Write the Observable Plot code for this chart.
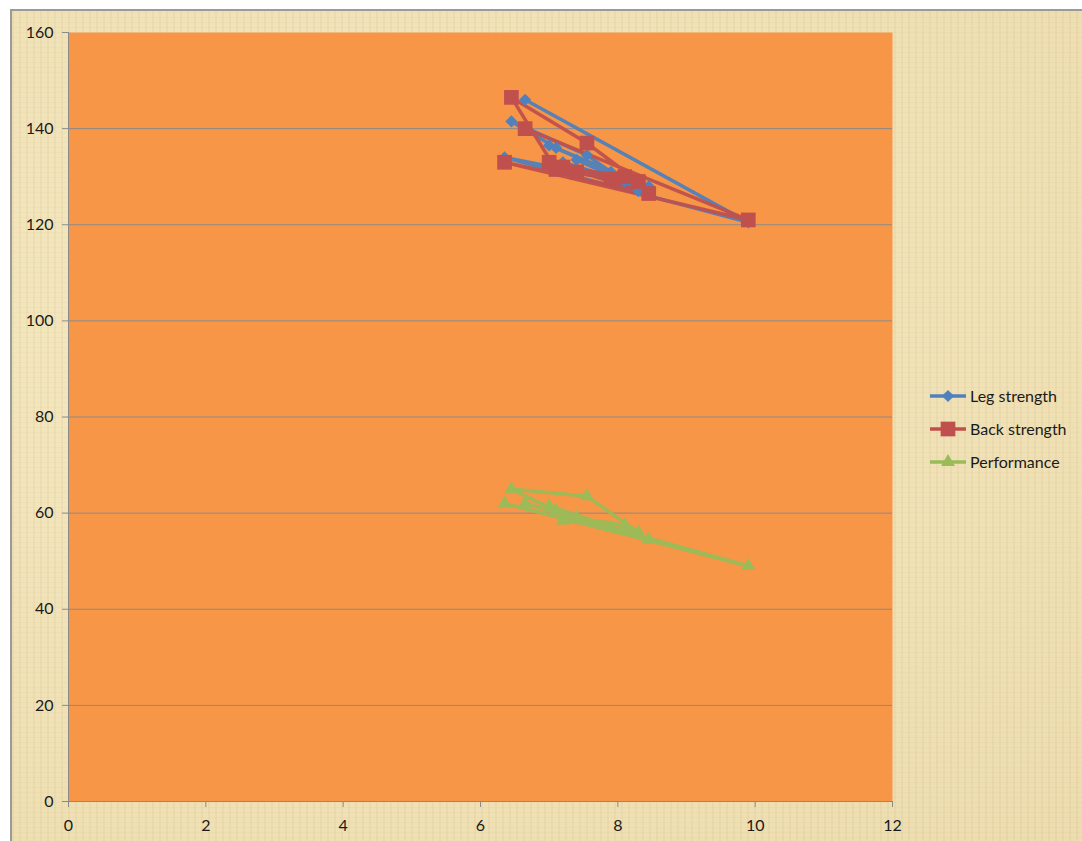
<!DOCTYPE html>
<html>
<head>
<meta charset="utf-8">
<script src="https://cdn.jsdelivr.net/npm/d3@7"></script>
<script src="https://cdn.jsdelivr.net/npm/@observablehq/plot@0.6"></script>
<style>
  html, body { margin: 0; padding: 0; background: #ffffff; }
  #chart {
    position: absolute; left: 10px; top: 9px; width: 1072px; height: 832px;
    border-left: 2px solid #9a9a9a; border-top: 2px solid #9a9a9a;
    background-color: #eedfb2;
    background-image:
      repeating-linear-gradient(90deg, rgba(190,160,100,0.10) 0px, rgba(190,160,100,0.10) 2px, rgba(255,255,255,0) 2px, rgba(255,255,255,0) 7px),
      repeating-linear-gradient(0deg, rgba(200,170,110,0.08) 0px, rgba(200,170,110,0.08) 1px, rgba(255,255,255,0) 1px, rgba(255,255,255,0) 5px),
      radial-gradient(ellipse at 30% 40%, rgba(250,240,205,0.6), rgba(230,210,160,0.2));
    font-family: Lato, "Open Sans", sans-serif;
  }
  #plot { position: absolute; left: 0; top: 0; }
  #plot svg text { font-size: 16px; fill: #1a1a1a; }
  #legend { position: absolute; left: 916px; top: 368px; font-size: 16px; color: #1a1a1a; }
  .item { display: flex; align-items: center; height: 33px; }
  .item svg { margin-right: 2px; }
</style>
</head>
<body>
<div id="chart">
  <div id="plot"></div>
  <div id="legend"></div>
</div>
<script>
// x values (shared) in data order
const xValues      = [6.65, 9.9, 6.35, 8.45, 7.0, 7.9, 7.1, 6.45, 7.55, 8.3, 7.2, 8.1, 7.4];
const legStrength  = [146, 120.5, 134, 128, 136.5, 131, 136, 141.5, 134.5, 127, 133, 129, 133.5];
const backStrength = [140, 121, 133, 126.5, 133, 129.5, 131.5, 146.5, 137, 129, 132, 130, 131];
const performance  = [62, 49, 62, 54.5, 61.5, 57, 60.5, 65, 63.5, 56, 58.5, 57.5, 59];
const seriesNames  = ["Leg strength", "Back strength", "Performance"];
const seriesColors = ["#4f81bd", "#c0504d", "#9bbb59"];
const seriesSymbols = ["diamond2", "square", "triangle"];
const seriesR = [5.5, 8.3, 5.2];
const xTicks = [0, 2, 4, 6, 8, 10, 12];
const yTicks = [0, 20, 40, 60, 80, 100, 120, 140, 160];

const seriesValues = [legStrength, backStrength, performance];
const rows = seriesNames.flatMap((name, s) =>
  xValues.map((x, i) => ({series: name, idx: i, x, y: seriesValues[s][i]})));

const font = "Lato, 'Open Sans', sans-serif";
const marks = [
  Plot.frame({fill: "#f79646", stroke: null}),
  Plot.gridY(yTicks.filter(d => d > 0 && d < 160), {stroke: "#8a8a8a", strokeOpacity: 1, strokeWidth: 1}),
  Plot.ruleX([0], {stroke: "#8a8a8a", strokeWidth: 1}),
  Plot.ruleY([0], {stroke: "#8a8a8a", strokeWidth: 1}),
  Plot.axisY(yTicks, {tickSize: 6, tickPadding: 9, stroke: "#8a8a8a", label: null}),
  Plot.axisX(xTicks, {tickSize: 6, tickPadding: 12, stroke: "#8a8a8a", label: null})
];
seriesNames.forEach((name, s) => {
  const data = rows.filter(d => d.series === name);
  marks.push(Plot.line(data, {x: "x", y: "y", stroke: seriesColors[s], strokeWidth: 3.5, strokeOpacity: 0.95}));
});
seriesNames.forEach((name, s) => {
  const data = rows.filter(d => d.series === name);
  marks.push(Plot.dot(data, {x: "x", y: "y", symbol: () => seriesSymbols[s], r: seriesR[s], fill: seriesColors[s], stroke: "none"}));
});

const chart = Plot.plot({
  width: 1072, height: 832,
  marginLeft: 56, marginRight: 192, marginTop: 21, marginBottom: 42,
  style: {background: "transparent", fontFamily: font, fontSize: "16px"},
  x: {domain: [0, 12]},
  y: {domain: [0, 160]},
  marks
});
document.getElementById("plot").appendChild(chart);

// legend
const legend = document.getElementById("legend");
seriesNames.forEach((name, s) => {
  const item = document.createElement("div");
  item.className = "item";
  const sym = d3.symbol().type(
    seriesSymbols[s] === "diamond2" ? d3.symbolDiamond2 :
    seriesSymbols[s] === "square" ? d3.symbolSquare : d3.symbolTriangle
  ).size(Math.PI * seriesR[s] * seriesR[s])();
  item.innerHTML = `<svg width="40" height="20"><line x1="2" y1="10" x2="38" y2="10" stroke="${seriesColors[s]}" stroke-width="3.5"/><path transform="translate(20,10)" d="${sym}" fill="${seriesColors[s]}"/></svg><span>${name}</span>`;
  legend.appendChild(item);
});
</script>
</body>
</html>
